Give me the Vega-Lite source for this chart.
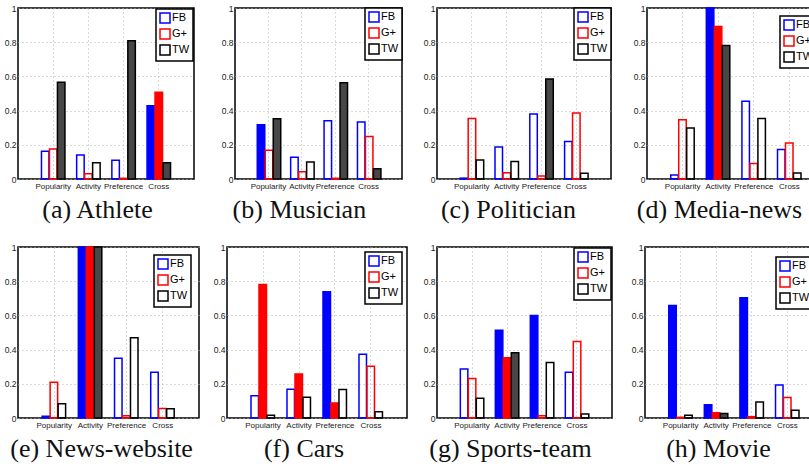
{
  "$schema": "https://vega.github.io/schema/vega-lite/v6.json",
  "padding": {"left": 0, "top": 3, "right": 0, "bottom": 0},
  "background": "white",
  "datasets": {
    "d": [
      {"panel": "a", "feature": "Popularity", "site": "FB", "value": 0.163, "filled": 0},
      {"panel": "a", "feature": "Popularity", "site": "G+", "value": 0.175, "filled": 0},
      {"panel": "a", "feature": "Popularity", "site": "TW", "value": 0.566, "filled": 1},
      {"panel": "a", "feature": "Activity", "site": "FB", "value": 0.14, "filled": 0},
      {"panel": "a", "feature": "Activity", "site": "G+", "value": 0.03, "filled": 0},
      {"panel": "a", "feature": "Activity", "site": "TW", "value": 0.095, "filled": 0},
      {"panel": "a", "feature": "Preference", "site": "FB", "value": 0.11, "filled": 0},
      {"panel": "a", "feature": "Preference", "site": "G+", "value": 0.004, "filled": 1},
      {"panel": "a", "feature": "Preference", "site": "TW", "value": 0.808, "filled": 1},
      {"panel": "a", "feature": "Cross", "site": "FB", "value": 0.428, "filled": 1},
      {"panel": "a", "feature": "Cross", "site": "G+", "value": 0.508, "filled": 1},
      {"panel": "a", "feature": "Cross", "site": "TW", "value": 0.095, "filled": 1},

      {"panel": "b", "feature": "Popularity", "site": "FB", "value": 0.317, "filled": 1},
      {"panel": "b", "feature": "Popularity", "site": "G+", "value": 0.168, "filled": 0},
      {"panel": "b", "feature": "Popularity", "site": "TW", "value": 0.352, "filled": 1},
      {"panel": "b", "feature": "Activity", "site": "FB", "value": 0.127, "filled": 0},
      {"panel": "b", "feature": "Activity", "site": "G+", "value": 0.042, "filled": 0},
      {"panel": "b", "feature": "Activity", "site": "TW", "value": 0.1, "filled": 0},
      {"panel": "b", "feature": "Preference", "site": "FB", "value": 0.341, "filled": 0},
      {"panel": "b", "feature": "Preference", "site": "G+", "value": 0.004, "filled": 1},
      {"panel": "b", "feature": "Preference", "site": "TW", "value": 0.563, "filled": 1},
      {"panel": "b", "feature": "Cross", "site": "FB", "value": 0.333, "filled": 0},
      {"panel": "b", "feature": "Cross", "site": "G+", "value": 0.248, "filled": 0},
      {"panel": "b", "feature": "Cross", "site": "TW", "value": 0.06, "filled": 1},

      {"panel": "c", "feature": "Popularity", "site": "FB", "value": 0.005, "filled": 0},
      {"panel": "c", "feature": "Popularity", "site": "G+", "value": 0.354, "filled": 0},
      {"panel": "c", "feature": "Popularity", "site": "TW", "value": 0.111, "filled": 0},
      {"panel": "c", "feature": "Activity", "site": "FB", "value": 0.187, "filled": 0},
      {"panel": "c", "feature": "Activity", "site": "G+", "value": 0.036, "filled": 0},
      {"panel": "c", "feature": "Activity", "site": "TW", "value": 0.103, "filled": 0},
      {"panel": "c", "feature": "Preference", "site": "FB", "value": 0.38, "filled": 0},
      {"panel": "c", "feature": "Preference", "site": "G+", "value": 0.018, "filled": 0},
      {"panel": "c", "feature": "Preference", "site": "TW", "value": 0.585, "filled": 1},
      {"panel": "c", "feature": "Cross", "site": "FB", "value": 0.22, "filled": 0},
      {"panel": "c", "feature": "Cross", "site": "G+", "value": 0.386, "filled": 0},
      {"panel": "c", "feature": "Cross", "site": "TW", "value": 0.033, "filled": 0},

      {"panel": "d", "feature": "Popularity", "site": "FB", "value": 0.023, "filled": 0},
      {"panel": "d", "feature": "Popularity", "site": "G+", "value": 0.347, "filled": 0},
      {"panel": "d", "feature": "Popularity", "site": "TW", "value": 0.298, "filled": 0},
      {"panel": "d", "feature": "Activity", "site": "FB", "value": 1.0, "filled": 1},
      {"panel": "d", "feature": "Activity", "site": "G+", "value": 0.892, "filled": 1},
      {"panel": "d", "feature": "Activity", "site": "TW", "value": 0.78, "filled": 1},
      {"panel": "d", "feature": "Preference", "site": "FB", "value": 0.455, "filled": 0},
      {"panel": "d", "feature": "Preference", "site": "G+", "value": 0.091, "filled": 0},
      {"panel": "d", "feature": "Preference", "site": "TW", "value": 0.354, "filled": 0},
      {"panel": "d", "feature": "Cross", "site": "FB", "value": 0.172, "filled": 0},
      {"panel": "d", "feature": "Cross", "site": "G+", "value": 0.21, "filled": 0},
      {"panel": "d", "feature": "Cross", "site": "TW", "value": 0.035, "filled": 0},

      {"panel": "e", "feature": "Popularity", "site": "FB", "value": 0.01, "filled": 0},
      {"panel": "e", "feature": "Popularity", "site": "G+", "value": 0.209, "filled": 0},
      {"panel": "e", "feature": "Popularity", "site": "TW", "value": 0.083, "filled": 0},
      {"panel": "e", "feature": "Activity", "site": "FB", "value": 1.0, "filled": 1},
      {"panel": "e", "feature": "Activity", "site": "G+", "value": 1.0, "filled": 1},
      {"panel": "e", "feature": "Activity", "site": "TW", "value": 1.0, "filled": 1},
      {"panel": "e", "feature": "Preference", "site": "FB", "value": 0.349, "filled": 0},
      {"panel": "e", "feature": "Preference", "site": "G+", "value": 0.013, "filled": 0},
      {"panel": "e", "feature": "Preference", "site": "TW", "value": 0.469, "filled": 0},
      {"panel": "e", "feature": "Cross", "site": "FB", "value": 0.268, "filled": 0},
      {"panel": "e", "feature": "Cross", "site": "G+", "value": 0.055, "filled": 0},
      {"panel": "e", "feature": "Cross", "site": "TW", "value": 0.054, "filled": 0},

      {"panel": "f", "feature": "Popularity", "site": "FB", "value": 0.13, "filled": 0},
      {"panel": "f", "feature": "Popularity", "site": "G+", "value": 0.78, "filled": 1},
      {"panel": "f", "feature": "Popularity", "site": "TW", "value": 0.016, "filled": 0},
      {"panel": "f", "feature": "Activity", "site": "FB", "value": 0.168, "filled": 0},
      {"panel": "f", "feature": "Activity", "site": "G+", "value": 0.258, "filled": 1},
      {"panel": "f", "feature": "Activity", "site": "TW", "value": 0.122, "filled": 0},
      {"panel": "f", "feature": "Preference", "site": "FB", "value": 0.738, "filled": 1},
      {"panel": "f", "feature": "Preference", "site": "G+", "value": 0.088, "filled": 1},
      {"panel": "f", "feature": "Preference", "site": "TW", "value": 0.166, "filled": 0},
      {"panel": "f", "feature": "Cross", "site": "FB", "value": 0.373, "filled": 0},
      {"panel": "f", "feature": "Cross", "site": "G+", "value": 0.303, "filled": 0},
      {"panel": "f", "feature": "Cross", "site": "TW", "value": 0.037, "filled": 0},

      {"panel": "g", "feature": "Popularity", "site": "FB", "value": 0.287, "filled": 0},
      {"panel": "g", "feature": "Popularity", "site": "G+", "value": 0.231, "filled": 0},
      {"panel": "g", "feature": "Popularity", "site": "TW", "value": 0.115, "filled": 0},
      {"panel": "g", "feature": "Activity", "site": "FB", "value": 0.513, "filled": 1},
      {"panel": "g", "feature": "Activity", "site": "G+", "value": 0.353, "filled": 1},
      {"panel": "g", "feature": "Activity", "site": "TW", "value": 0.381, "filled": 1},
      {"panel": "g", "feature": "Preference", "site": "FB", "value": 0.6, "filled": 1},
      {"panel": "g", "feature": "Preference", "site": "G+", "value": 0.013, "filled": 0},
      {"panel": "g", "feature": "Preference", "site": "TW", "value": 0.324, "filled": 0},
      {"panel": "g", "feature": "Cross", "site": "FB", "value": 0.268, "filled": 0},
      {"panel": "g", "feature": "Cross", "site": "G+", "value": 0.447, "filled": 0},
      {"panel": "g", "feature": "Cross", "site": "TW", "value": 0.023, "filled": 0},

      {"panel": "h", "feature": "Popularity", "site": "FB", "value": 0.658, "filled": 1},
      {"panel": "h", "feature": "Popularity", "site": "G+", "value": 0.004, "filled": 1},
      {"panel": "h", "feature": "Popularity", "site": "TW", "value": 0.016, "filled": 0},
      {"panel": "h", "feature": "Activity", "site": "FB", "value": 0.077, "filled": 1},
      {"panel": "h", "feature": "Activity", "site": "G+", "value": 0.031, "filled": 1},
      {"panel": "h", "feature": "Activity", "site": "TW", "value": 0.027, "filled": 1},
      {"panel": "h", "feature": "Preference", "site": "FB", "value": 0.703, "filled": 1},
      {"panel": "h", "feature": "Preference", "site": "G+", "value": 0.008, "filled": 1},
      {"panel": "h", "feature": "Preference", "site": "TW", "value": 0.094, "filled": 0},
      {"panel": "h", "feature": "Cross", "site": "FB", "value": 0.193, "filled": 0},
      {"panel": "h", "feature": "Cross", "site": "G+", "value": 0.12, "filled": 0},
      {"panel": "h", "feature": "Cross", "site": "TW", "value": 0.045, "filled": 0}
    ]
  },
  "spacing": 18,
  "resolve": {"scale": {"stroke": "independent", "fill": "independent"}, "legend": {"stroke": "independent"}},
  "vconcat": [
    {
      "spacing": 0,
      "resolve": {"scale": {"stroke": "independent", "fill": "independent"}, "legend": {"stroke": "independent"}},
      "hconcat": [
        {
          "width": 176, "height": 171,
          "data": {"name": "d"},
          "transform": [{"filter": "datum.panel === 'a'"}],
          "title": {"text": "(a) Athlete"},
          "mark": {"type": "bar"},
          "encoding": {
            "x": {"field": "feature", "type": "nominal", "sort": ["Popularity", "Activity", "Preference", "Cross"], "scale": {"paddingInner": 0.333, "paddingOuter": 0.667}, "title": null},
            "xOffset": {"field": "site", "type": "nominal", "sort": ["FB", "G+", "TW"], "scale": {"paddingInner": 0.06}},
            "y": {"field": "value", "type": "quantitative", "scale": {"domain": [0, 1], "nice": false}, "axis": {"values": [0, 0.2, 0.4, 0.6, 0.8, 1], "format": ".1~f", "minExtent": 17}, "title": null},
            "stroke": {"field": "site", "type": "nominal", "scale": {"domain": ["FB", "G+", "TW"], "range": ["#0000ff", "#ff0000", "#000000"]}, "legend": {"title": null, "symbolFillColor": "white", "offset": 1}},
            "fill": {"field": "site", "type": "nominal", "scale": {"range": ["#0000ff", "#ff0000", "#474747"]}, "legend": null},
            "fillOpacity": {"condition": {"test": "datum.filled === 1", "value": 1}, "value": 0}
          }
        },
        {
          "width": 167, "height": 171,
          "data": {"name": "d"},
          "transform": [{"filter": "datum.panel === 'b'"}],
          "title": {"text": "(b) Musician"},
          "mark": {"type": "bar"},
          "encoding": {
            "x": {"field": "feature", "type": "nominal", "sort": ["Popularity", "Activity", "Preference", "Cross"], "scale": {"paddingInner": 0.333, "paddingOuter": 0.667}, "title": null},
            "xOffset": {"field": "site", "type": "nominal", "sort": ["FB", "G+", "TW"], "scale": {"paddingInner": 0.06}},
            "y": {"field": "value", "type": "quantitative", "scale": {"domain": [0, 1], "nice": false}, "axis": {"values": [0, 0.2, 0.4, 0.6, 0.8, 1], "format": ".1~f", "minExtent": 39}, "title": null},
            "stroke": {"field": "site", "type": "nominal", "scale": {"domain": ["FB", "G+", "TW"], "range": ["#0000ff", "#ff0000", "#000000"]}, "legend": {"title": null, "symbolFillColor": "white"}},
            "fill": {"field": "site", "type": "nominal", "scale": {"range": ["#0000ff", "#ff0000", "#474747"]}, "legend": null},
            "fillOpacity": {"condition": {"test": "datum.filled === 1", "value": 1}, "value": 0}
          }
        },
        {
          "width": 174, "height": 171,
          "data": {"name": "d"},
          "transform": [{"filter": "datum.panel === 'c'"}],
          "title": {"text": "(c) Politician"},
          "mark": {"type": "bar"},
          "encoding": {
            "x": {"field": "feature", "type": "nominal", "sort": ["Popularity", "Activity", "Preference", "Cross"], "scale": {"paddingInner": 0.333, "paddingOuter": 0.667}, "title": null},
            "xOffset": {"field": "site", "type": "nominal", "sort": ["FB", "G+", "TW"], "scale": {"paddingInner": 0.06}},
            "y": {"field": "value", "type": "quantitative", "scale": {"domain": [0, 1], "nice": false}, "axis": {"values": [0, 0.2, 0.4, 0.6, 0.8, 1], "format": ".1~f", "minExtent": 32}, "title": null},
            "stroke": {"field": "site", "type": "nominal", "scale": {"domain": ["FB", "G+", "TW"], "range": ["#0000ff", "#ff0000", "#000000"]}, "legend": {"title": null, "symbolFillColor": "white"}},
            "fill": {"field": "site", "type": "nominal", "scale": {"range": ["#0000ff", "#ff0000", "#474747"]}, "legend": null},
            "fillOpacity": {"condition": {"test": "datum.filled === 1", "value": 1}, "value": 0}
          }
        },
        {
          "width": 178, "height": 171,
          "data": {"name": "d"},
          "transform": [{"filter": "datum.panel === 'd'"}],
          "title": {"text": "(d) Media-news"},
          "mark": {"type": "bar"},
          "encoding": {
            "x": {"field": "feature", "type": "nominal", "sort": ["Popularity", "Activity", "Preference", "Cross"], "scale": {"paddingInner": 0.333, "paddingOuter": 0.667}, "title": null},
            "xOffset": {"field": "site", "type": "nominal", "sort": ["FB", "G+", "TW"], "scale": {"paddingInner": 0.06}},
            "y": {"field": "value", "type": "quantitative", "scale": {"domain": [0, 1], "nice": false}, "axis": {"values": [0, 0.2, 0.4, 0.6, 0.8, 1], "format": ".1~f", "minExtent": 33}, "title": null},
            "stroke": {"field": "site", "type": "nominal", "scale": {"domain": ["FB", "G+", "TW"], "range": ["#0000ff", "#ff0000", "#000000"]}, "legend": {"title": null, "symbolFillColor": "white", "offset": 8}},
            "fill": {"field": "site", "type": "nominal", "scale": {"range": ["#0000ff", "#ff0000", "#474747"]}, "legend": null},
            "fillOpacity": {"condition": {"test": "datum.filled === 1", "value": 1}, "value": 0}
          }
        }
      ]
    },
    {
      "spacing": 0,
      "resolve": {"scale": {"stroke": "independent", "fill": "independent"}, "legend": {"stroke": "independent"}},
      "hconcat": [
        {
          "width": 181, "height": 171,
          "data": {"name": "d"},
          "transform": [{"filter": "datum.panel === 'e'"}],
          "title": {"text": "(e) News-website"},
          "mark": {"type": "bar"},
          "encoding": {
            "x": {"field": "feature", "type": "nominal", "sort": ["Popularity", "Activity", "Preference", "Cross"], "scale": {"paddingInner": 0.333, "paddingOuter": 0.667}, "title": null},
            "xOffset": {"field": "site", "type": "nominal", "sort": ["FB", "G+", "TW"], "scale": {"paddingInner": 0.06}},
            "y": {"field": "value", "type": "quantitative", "scale": {"domain": [0, 1], "nice": false}, "axis": {"values": [0, 0.2, 0.4, 0.6, 0.8, 1], "format": ".1~f", "minExtent": 12}, "title": null},
            "stroke": {"field": "site", "type": "nominal", "scale": {"domain": ["FB", "G+", "TW"], "range": ["#0000ff", "#ff0000", "#000000"]}, "legend": {"title": null, "symbolFillColor": "white", "offset": 8}},
            "fill": {"field": "site", "type": "nominal", "scale": {"range": ["#0000ff", "#ff0000", "#474747"]}, "legend": null},
            "fillOpacity": {"condition": {"test": "datum.filled === 1", "value": 1}, "value": 0}
          }
        },
        {
          "width": 180, "height": 171,
          "data": {"name": "d"},
          "transform": [{"filter": "datum.panel === 'f'"}],
          "title": {"text": "(f) Cars"},
          "mark": {"type": "bar"},
          "encoding": {
            "x": {"field": "feature", "type": "nominal", "sort": ["Popularity", "Activity", "Preference", "Cross"], "scale": {"paddingInner": 0.333, "paddingOuter": 0.667}, "title": null},
            "xOffset": {"field": "site", "type": "nominal", "sort": ["FB", "G+", "TW"], "scale": {"paddingInner": 0.06}},
            "y": {"field": "value", "type": "quantitative", "scale": {"domain": [0, 1], "nice": false}, "axis": {"values": [0, 0.2, 0.4, 0.6, 0.8, 1], "format": ".1~f", "minExtent": 26}, "title": null},
            "stroke": {"field": "site", "type": "nominal", "scale": {"domain": ["FB", "G+", "TW"], "range": ["#0000ff", "#ff0000", "#000000"]}, "legend": {"title": null, "symbolFillColor": "white", "offset": 5}},
            "fill": {"field": "site", "type": "nominal", "scale": {"range": ["#0000ff", "#ff0000", "#474747"]}, "legend": null},
            "fillOpacity": {"condition": {"test": "datum.filled === 1", "value": 1}, "value": 0}
          }
        },
        {
          "width": 175, "height": 171,
          "data": {"name": "d"},
          "transform": [{"filter": "datum.panel === 'g'"}],
          "title": {"text": "(g) Sports-team"},
          "mark": {"type": "bar"},
          "encoding": {
            "x": {"field": "feature", "type": "nominal", "sort": ["Popularity", "Activity", "Preference", "Cross"], "scale": {"paddingInner": 0.333, "paddingOuter": 0.667}, "title": null},
            "xOffset": {"field": "site", "type": "nominal", "sort": ["FB", "G+", "TW"], "scale": {"paddingInner": 0.06}},
            "y": {"field": "value", "type": "quantitative", "scale": {"domain": [0, 1], "nice": false}, "axis": {"values": [0, 0.2, 0.4, 0.6, 0.8, 1], "format": ".1~f", "minExtent": 28}, "title": null},
            "stroke": {"field": "site", "type": "nominal", "scale": {"domain": ["FB", "G+", "TW"], "range": ["#0000ff", "#ff0000", "#000000"]}, "legend": {"title": null, "symbolFillColor": "white", "offset": 1}},
            "fill": {"field": "site", "type": "nominal", "scale": {"range": ["#0000ff", "#ff0000", "#474747"]}, "legend": null},
            "fillOpacity": {"condition": {"test": "datum.filled === 1", "value": 1}, "value": 0}
          }
        },
        {
          "width": 178, "height": 171,
          "data": {"name": "d"},
          "transform": [{"filter": "datum.panel === 'h'"}],
          "title": {"text": "(h) Movie"},
          "mark": {"type": "bar"},
          "encoding": {
            "x": {"field": "feature", "type": "nominal", "sort": ["Popularity", "Activity", "Preference", "Cross"], "scale": {"paddingInner": 0.333, "paddingOuter": 0.667}, "title": null},
            "xOffset": {"field": "site", "type": "nominal", "sort": ["FB", "G+", "TW"], "scale": {"paddingInner": 0.06}},
            "y": {"field": "value", "type": "quantitative", "scale": {"domain": [0, 1], "nice": false}, "axis": {"values": [0, 0.2, 0.4, 0.6, 0.8, 1], "format": ".1~f", "minExtent": 31}, "title": null},
            "stroke": {"field": "site", "type": "nominal", "scale": {"domain": ["FB", "G+", "TW"], "range": ["#0000ff", "#ff0000", "#000000"]}, "legend": {"title": null, "symbolFillColor": "white", "offset": 10}},
            "fill": {"field": "site", "type": "nominal", "scale": {"range": ["#0000ff", "#ff0000", "#474747"]}, "legend": null},
            "fillOpacity": {"condition": {"test": "datum.filled === 1", "value": 1}, "value": 0}
          }
        }
      ]
    }
  ],
  "config": {
    "view": {"stroke": "#000000", "strokeWidth": 1.5},
    "bar": {"strokeWidth": 1.5},
    "axis": {
      "grid": true, "gridColor": "#b4b4b4", "gridDash": [1, 3], "gridWidth": 1,
      "domain": false, "ticks": false,
      "labelFont": "Liberation Sans", "labelColor": "#222222"
    },
    "axisX": {"labelFontSize": 8, "labelPadding": 3, "labelAngle": 0, "bandPosition": 0.5, "labelOverlap": false},
    "axisY": {"labelFontSize": 8.5, "labelPadding": 2},
    "legend": {
      "orient": "top-right", "offset": 0, "symbolType": "square", "symbolSize": 100,
      "symbolStrokeWidth": 1.5, "symbolFillColor": "white",
      "labelFont": "Liberation Sans", "labelFontSize": 11, "labelColor": "#000000", "labelOffset": 1,
      "padding": 3, "rowPadding": 0, "strokeColor": "#000000", "fillColor": "#ffffff", "strokeWidth": 1.5
    },
    "title": {"font": "Liberation Serif", "fontSize": 26, "fontWeight": "normal", "orient": "bottom", "color": "#111111", "offset": 7, "frame": "bounds"}
  }
}
